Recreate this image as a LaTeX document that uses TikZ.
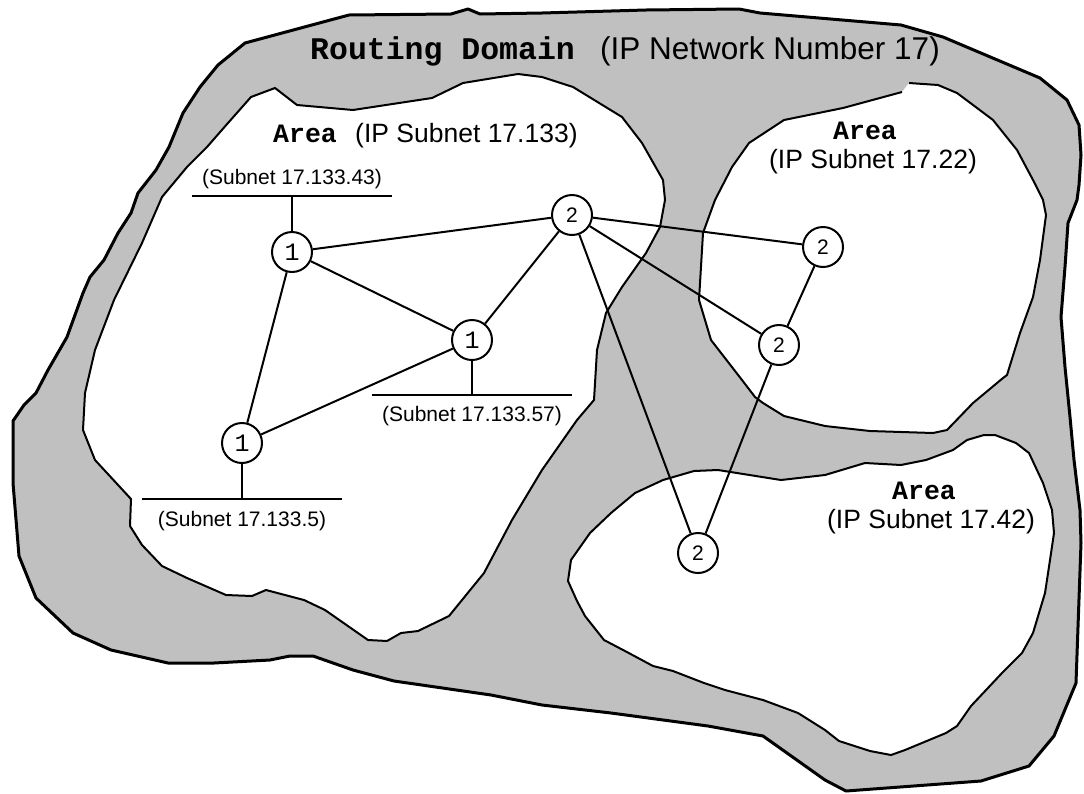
\documentclass[tikz,border=0pt]{standalone}
\usepackage{fontspec}
\setmainfont{Liberation Sans}
\newfontfamily\cour{Liberation Mono}
\definecolor{domaingray}{HTML}{C0C0C0}
\begin{document}
\begin{tikzpicture}[x=1pt,y=-1pt,
  routingdomain/.style={fill=domaingray, draw=black, line width=3pt, line join=round},
  areafill/.style={fill=white},
  arealine/.style={draw=black, line width=2pt, line join=round},
  router/.style={circle, draw=black, line width=2pt, fill=white, minimum size=40pt, inner sep=0pt},
  one/.style={router, font=\cour\fontsize{25}{25}\selectfont},
  two/.style={router, font=\fontsize{21}{21}\selectfont},
  link/.style={line width=2pt},
  bar/.style={line width=2.2pt},
  titlett/.style={anchor=base west, font=\cour\bfseries\fontsize{31.5}{36}\selectfont, inner sep=0pt},
  titlesf/.style={anchor=base west, font=\fontsize{31.5}{36}\selectfont, inner sep=0pt},
  areatt/.style={font=\cour\bfseries\fontsize{26.5}{30}\selectfont, inner sep=0pt},
  areasf/.style={font=\fontsize{26.5}{30}\selectfont, inner sep=0pt},
  subnet/.style={anchor=base, font=\fontsize{21}{24}\selectfont, inner sep=0pt}
]
\useasboundingbox (0,0) rectangle (1084,793);

% routing domain
\path[routingdomain] (245,43) -- (349,15) -- (451,14) -- (468,9) -- (480,14) -- (542,13) -- (646,10) -- (739,9) -- (760,13) -- (901,25) -- (943,37) -- (1040,78) -- (1067,100) -- (1079,125) -- (1081,155) -- (1079,185) -- (1077,200) -- (1068,223) -- (1065,267) -- (1061,317) -- (1065,367) -- (1070,417) -- (1074,460) -- (1080,510) -- (1081,543) -- (1076,683) -- (1054,736) -- (1029,766) -- (981,781) -- (846,791) -- (825,780) -- (763,736) -- (708,726) -- (611,713) -- (542,705) -- (491,695) -- (394,681) -- (353,670) -- (313,656) -- (290,656) -- (270,660) -- (214,663) -- (168,663) -- (111,650) -- (73,633) -- (36,598) -- (19,556) -- (13,483) -- (13,421) -- (24,405) -- (36,393) -- (48,370) -- (67,337) -- (83,293) -- (90,277) -- (104,260) -- (118,233) -- (131,213) -- (138,193) -- (156,170) -- (169,147) -- (183,113) -- (200,87) -- (218,65) -- cycle;

% area 17.133
\path[areafill, arealine] (251,97) -- (275,88) -- (297,105) -- (353,110) -- (432,98) -- (463,83) -- (518,74) -- (542,77) -- (573,87) -- (622,117) -- (642,143) -- (663,180) -- (665,200) -- (660,227) -- (646,253) -- (622,287) -- (606,313) -- (597,350) -- (594,400) -- (577,420) -- (542,470) -- (512,520) -- (484,573) -- (449,616) -- (418,631) -- (401,633) -- (387,641) -- (368,640) -- (325,610) -- (304,600) -- (266,590) -- (252,596) -- (226,595) -- (187,578) -- (162,566) -- (142,545) -- (130,526) -- (131,499) -- (95,460) -- (83,430) -- (85,393) -- (95,350) -- (114,300) -- (142,243) -- (162,197) -- (187,167) -- (207,147) -- (228,123) -- cycle;

% area 17.22 (small gap in its outline at the top)
\path[areafill] (909,83) -- (938,85) -- (957,93) -- (993,120) -- (1017,150) -- (1033,180) -- (1043,200) -- (1046,215) -- (1040,260) -- (1033,297) -- (1020,333) -- (1007,375) -- (1003,378) -- (973,403) -- (947,430) -- (933,433) -- (870,431) -- (825,426) -- (784,416) -- (763,403) -- (755,397) -- (742,380) -- (711,340) -- (699,300) -- (703,233) -- (715,200) -- (732,167) -- (749,143) -- (784,120) -- (843,108) -- (902,92) -- cycle;
\path[arealine] (909,83) -- (938,85) -- (957,93) -- (993,120) -- (1017,150) -- (1033,180) -- (1043,200) -- (1046,215) -- (1040,260) -- (1033,297) -- (1020,333) -- (1007,375) -- (1003,378) -- (973,403) -- (947,430) -- (933,433) -- (870,431) -- (825,426) -- (784,416) -- (763,403) -- (755,397) -- (742,380) -- (711,340) -- (699,300) -- (703,233) -- (715,200) -- (732,167) -- (749,143) -- (784,120) -- (843,108) -- (902,92);

% area 17.42
\path[areafill, arealine] (568,581) -- (571,560) -- (590,533) -- (611,513) -- (635,493) -- (663,480) -- (694,471) -- (718,470) -- (781,480) -- (825,475) -- (865,463) -- (901,465) -- (926,460) -- (953,450) -- (967,440) -- (984,435) -- (995,435) -- (1016,443) -- (1029,453) -- (1043,483) -- (1052,510) -- (1054,533) -- (1050,560) -- (1045,593) -- (1033,633) -- (1022,653) -- (1002,673) -- (971,706) -- (957,726) -- (946,733) -- (905,750) -- (891,755) -- (870,751) -- (839,741) -- (825,730) -- (798,713) -- (763,700) -- (725,690) -- (704,683) -- (673,671) -- (653,666) -- (625,651) -- (604,640) -- (585,616) -- (577,601) -- cycle;

% labels
\node[titlett] (tdom) at (310,59) {Routing Domain};
\node[titlesf] (tnet) at (600,59) {(IP Network Number 17)};
\node[areatt, anchor=base west] (ta1) at (273,142) {Area};
\node[areasf, anchor=base west] (ts1) at (355,142) {(IP Subnet 17.133)};
\node[areatt, anchor=base] (ta2) at (865,139) {Area};
\node[areasf, anchor=base] (ts2) at (873,168) {(IP Subnet 17.22)};
\node[areatt, anchor=base] (ta3) at (924,499) {Area};
\node[areasf, anchor=base] (ts3) at (931,528) {(IP Subnet 17.42)};

% subnets
\coordinate (b43l) at (192,196);
\coordinate (b43r) at (392,196);
\coordinate (b43) at (292,196);
\coordinate (b57l) at (372,395);
\coordinate (b57r) at (572,395);
\coordinate (b57) at (472,395);
\coordinate (b5l) at (142,499);
\coordinate (b5r) at (342,499);
\coordinate (b5) at (242,499);
\draw[bar] (b43l) -- (b43r);
\draw[bar] (b57l) -- (b57r);
\draw[bar] (b5l) -- (b5r);
\node[subnet] (l43) at (292,184) {(Subnet 17.133.43)};
\node[subnet] (l57) at (472,421) {(Subnet 17.133.57)};
\node[subnet] (l5) at (242,526) {(Subnet 17.133.5)};

% routers
\node[one] (a) at (292,252) {1};
\node[one] (b) at (472,340) {1};
\node[one] (c) at (242,443) {1};
\node[two] (p) at (572,215) {2};
\node[two] (q) at (823,247) {2};
\node[two] (r) at (779,345) {2};
\node[two] (s) at (698,553) {2};

% links
\draw[link] (a) -- (b43);
\draw[link] (b) -- (b57);
\draw[link] (c) -- (b5);
\draw[link] (a) -- (p);
\draw[link] (a) -- (b);
\draw[link] (a) -- (c);
\draw[link] (b) -- (p);
\draw[link] (b) -- (c);
\draw[link] (p) -- (q);
\draw[link] (p) -- (r);
\draw[link] (p) -- (s);
\draw[link] (q) -- (r);
\draw[link] (r) -- (s);
\end{tikzpicture}
\end{document}
